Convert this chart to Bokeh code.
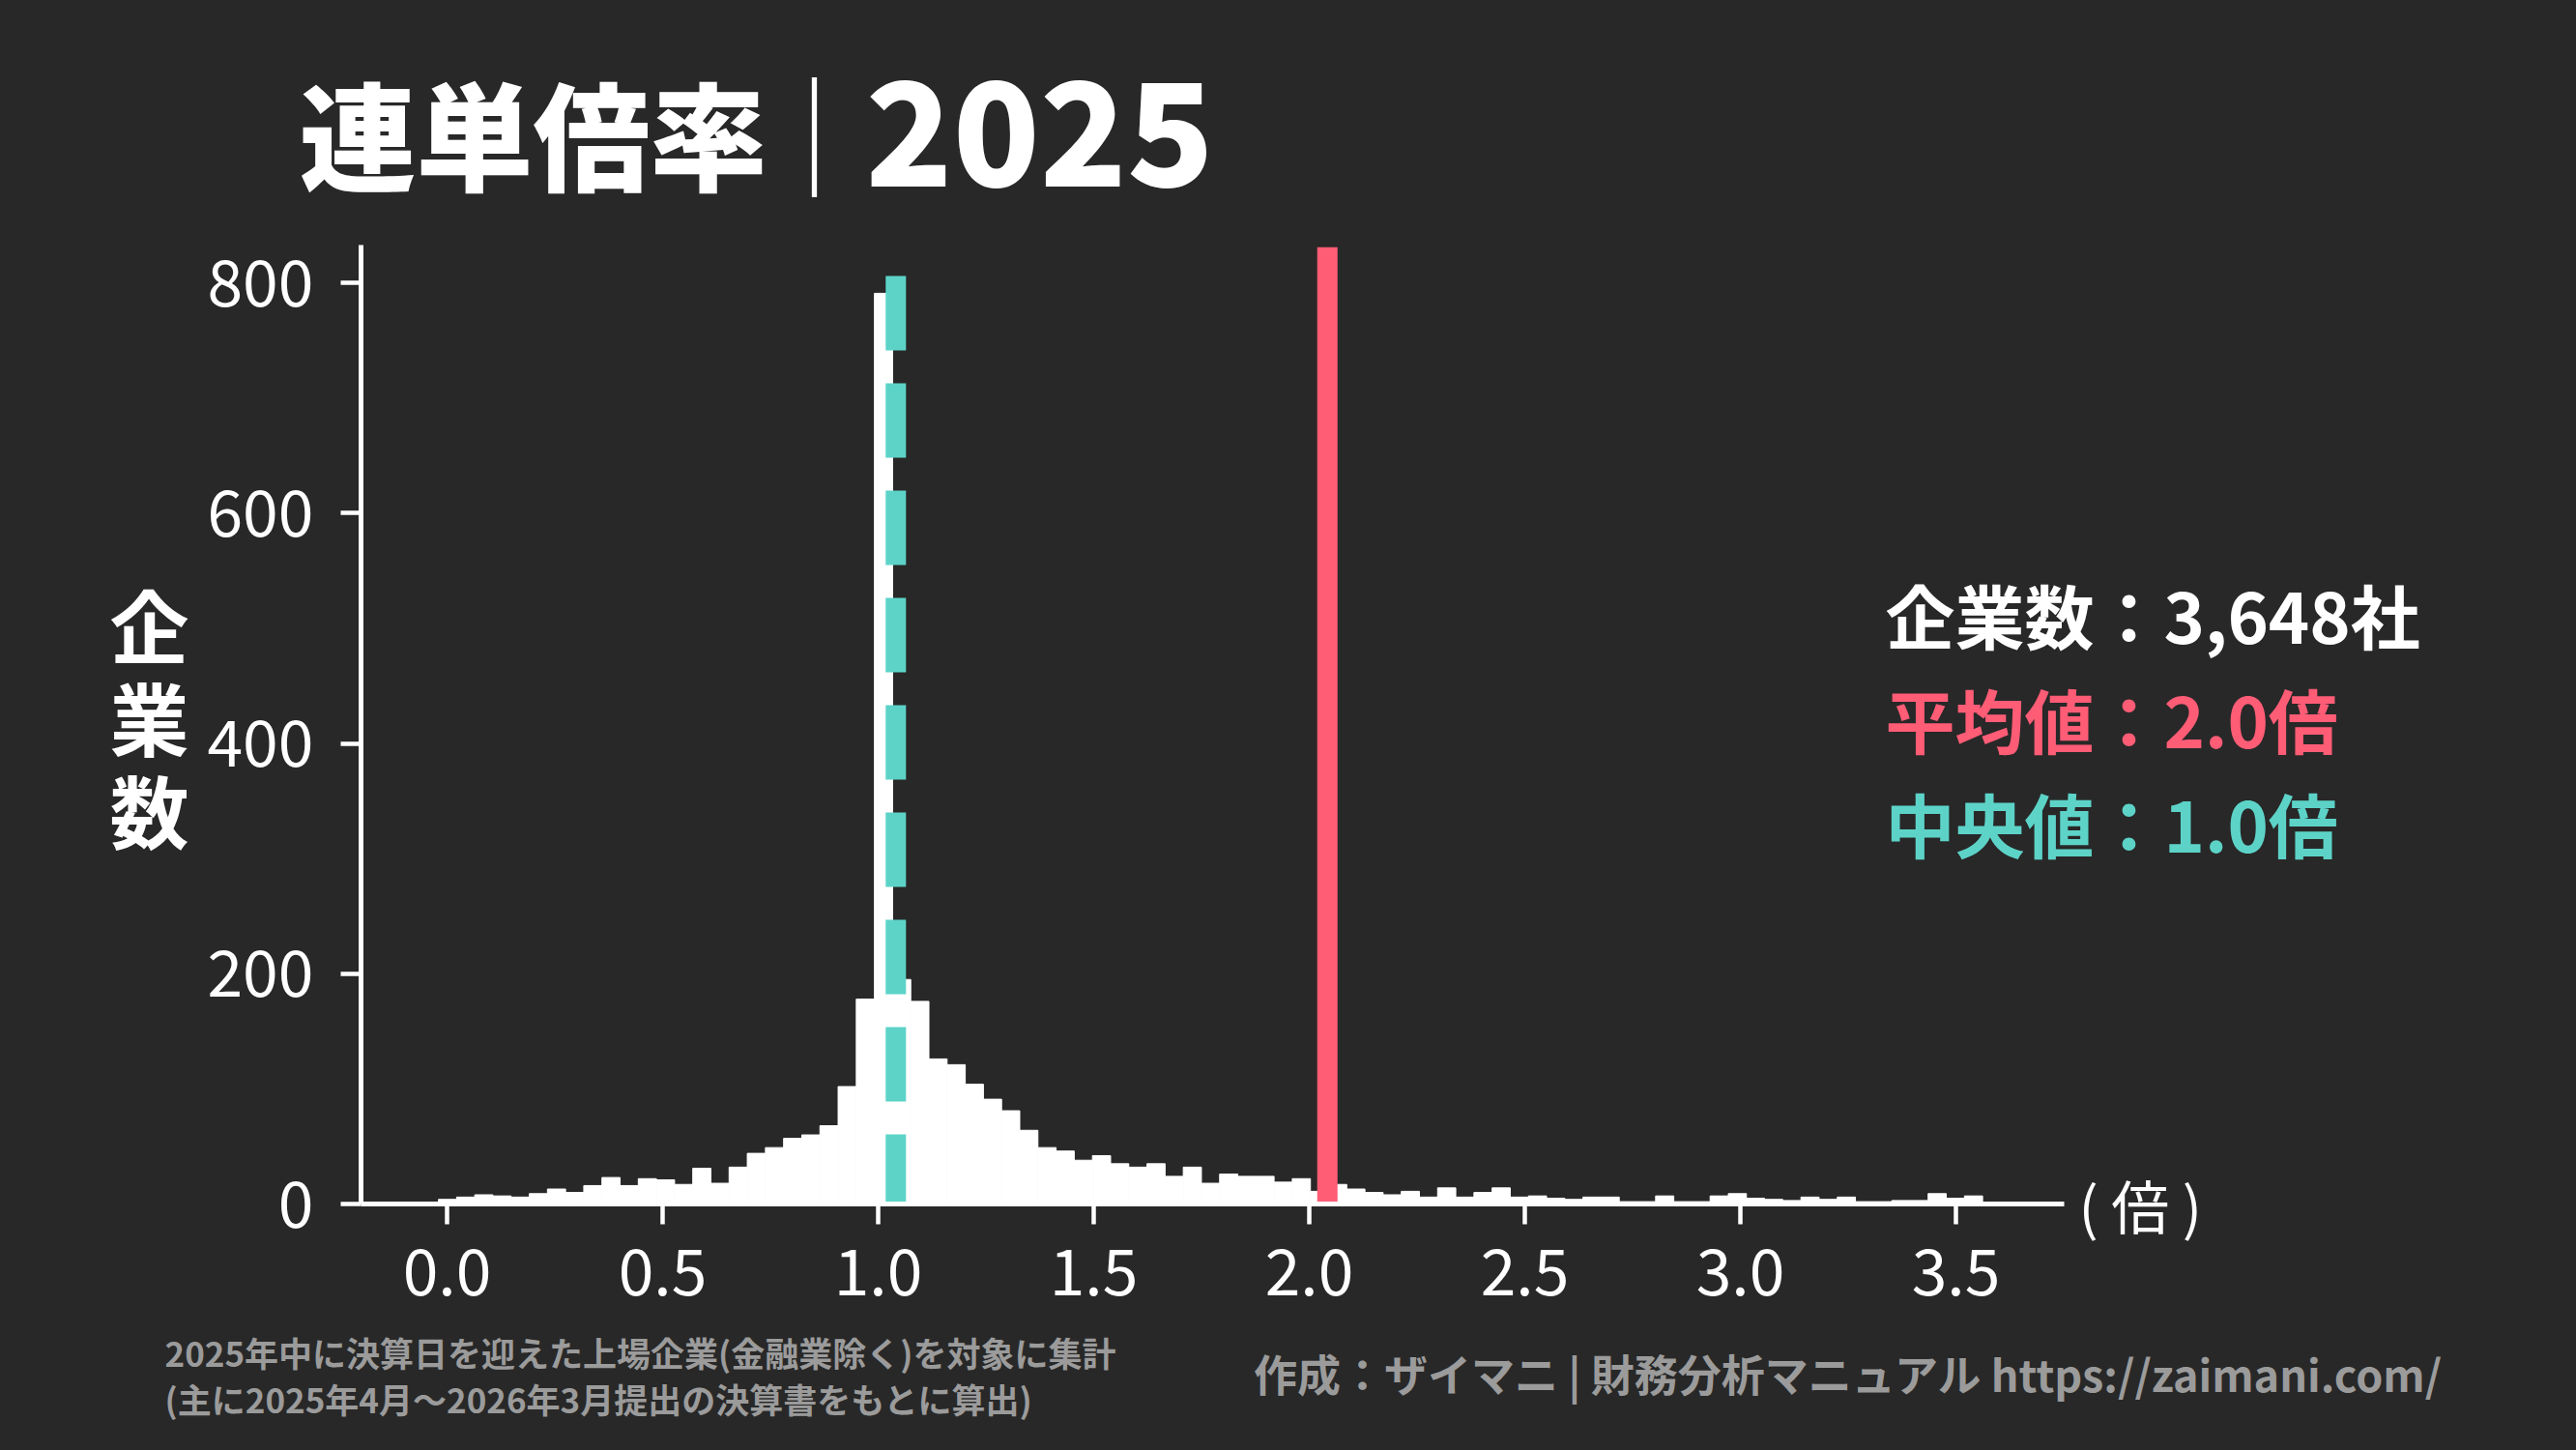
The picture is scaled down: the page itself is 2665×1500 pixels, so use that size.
import numpy as np
from bokeh.plotting import figure
from bokeh.models import Range1d, FixedTicker, Label, NumeralTickFormatter, ColumnDataSource
from bokeh.embed import file_html
from bokeh.resources import INLINE

# ---------------- data ----------------
bin_start = -0.02
bin_width = 0.04214
counts = [4, 6, 8, 7, 6, 9, 13, 10, 16, 23,
          16, 22, 21, 17, 31, 18, 32, 44, 49, 57,
          60, 68, 102, 178, 791, 195, 176, 126, 121, 104,
          91, 81, 64, 49, 46, 38, 42, 35, 32, 35,
          24, 32, 18, 26, 24, 24, 19, 22, 11, 17,
          13, 10, 8, 11, 6, 14, 6, 10, 14, 6,
          7, 5, 4, 6, 6, 2, 2, 7, 2, 2,
          7, 9, 5, 4, 3, 6, 4, 6, 2, 2,
          3, 3, 9, 5, 7]
mean_value = 2.042
median_value = 1.041
mean_line_top = 831
median_line_top = 806
x_ticks = [0.0, 0.5, 1.0, 1.5, 2.0, 2.5, 3.0, 3.5]
y_ticks = [0, 200, 400, 600, 800]
x_axis_bounds = (-0.2, 3.75)
y_axis_bounds = (0, 833)
title_main = "連単倍率"
title_sep = "｜"
title_year = "2025"
y_label_chars = ["企", "業", "数"]
x_unit_label = "( 倍 )"
stats_lines = ["企業数：3,648社", "平均値：2.0倍", "中央値：1.0倍"]
footnote_lines = ["2025年中に決算日を迎えた上場企業(金融業除く)を対象に集計",
                  "(主に2025年4月～2026年3月提出の決算書をもとに算出)"]
credit = "作成：ザイマニ | 財務分析マニュアル https://zaimani.com/"

# ---------------- style ----------------
BG = "#282828"
WHITE = "#ffffff"
RED = "#ff5c76"
TEAL = "#5dd3c8"
GRAY = "#9b9b9b"
JP = "'Noto Sans CJK JP'"
JP_BLACK = "'Noto Sans CJK JP Black', 'Noto Sans CJK JP'"

W, H = 2649, 1484
# pixel placement of the data origin and scale (frame = whole canvas)
PX_X0, PX_PER_X = 462.0, 446.0
PX_Y0, PX_PER_Y = 1245.0, 1.191

x_range = Range1d(-PX_X0 / PX_PER_X, (W - PX_X0) / PX_PER_X)
y_range = Range1d(-(H - PX_Y0) / PX_PER_Y, PX_Y0 / PX_PER_Y)

p = figure(width=W, height=H, output_backend="svg", toolbar_location=None,
           x_range=x_range, y_range=y_range,
           min_border_left=0, min_border_top=0,
           min_border_right=0, min_border_bottom=0)
p.background_fill_color = BG
p.border_fill_color = BG
p.outline_line_color = None
p.xgrid.visible = False
p.ygrid.visible = False

def dx(sx):
    return (sx - PX_X0) / PX_PER_X

def dy(sy):
    return (PX_Y0 - sy) / PX_PER_Y

left = bin_start + bin_width * np.arange(len(counts))
src = ColumnDataSource(dict(left=left, right=left + bin_width, top=counts))
p.quad(left="left", right="right", bottom=0, top="top", source=src,
       fill_color=WHITE, line_color=WHITE, line_width=1)

p.segment(x0=[mean_value], y0=[0], x1=[mean_value], y1=[mean_line_top],
          line_color=RED, line_width=21)
p.segment(x0=[median_value], y0=[median_line_top], x1=[median_value], y1=[0],
          line_color=TEAL, line_width=21, line_dash="77 34")

for ax in (p.xaxis[0], p.yaxis[0]):
    ax.axis_line_color = WHITE
    ax.axis_line_width = 5
    ax.major_tick_line_color = WHITE
    ax.major_tick_line_width = 4.5
    ax.major_tick_out = 21
    ax.major_tick_in = 0
    ax.minor_tick_line_color = None
    ax.major_label_text_color = WHITE
    ax.major_label_text_font = JP
    ax.major_label_text_font_size = "66px"

p.xaxis.fixed_location = y_axis_bounds[0]
p.yaxis.fixed_location = x_axis_bounds[0]
p.xaxis.bounds = x_axis_bounds
p.yaxis.bounds = y_axis_bounds
p.xaxis.ticker = FixedTicker(ticks=x_ticks)
p.xaxis.formatter = NumeralTickFormatter(format="0.0")
p.xaxis.major_label_standoff = 25
p.yaxis.ticker = FixedTicker(ticks=y_ticks)
p.yaxis.major_label_standoff = 28

def add_label(text, sx, sy, size, color=WHITE, font=JP, style="normal",
              align="left", baseline="middle"):
    p.add_layout(Label(x=dx(sx), y=dy(sy), text=text, text_color=color,
                       text_font=font, text_font_size=f"{size}px",
                       text_font_style=style, text_align=align,
                       text_baseline=baseline))

# title
add_label(title_main, 309, 135, 121, font=JP_BLACK, style="bold")
add_label(title_sep, 842, 134, 124, font=JP, align="center")
add_label(title_year, 895, 137, 148, font=JP_BLACK, style="bold")

# y label
for i, ch in enumerate(y_label_chars):
    add_label(ch, 154, 644 + i * 96, 82, align="center", style="bold")

# x unit
add_label(x_unit_label, 2150, 1245, 60)

# stats block
stat_colors = [WHITE, RED, TEAL]
for i, (t, c) in enumerate(zip(stats_lines, stat_colors)):
    add_label(t, 1950, 634 + i * 108, 72, color=c, style="bold")

# footnotes
for i, t in enumerate(footnote_lines):
    add_label(t, 170, 1398 + i * 48, 35, color=GRAY, style="bold")
add_label(credit, 2527, 1420, 45, color=GRAY, style="bold", align="right")

html = file_html(p, INLINE)
html = html.replace("<head>", "<head><style>html, body {background: #282828;}</style>", 1)
open("out.html", "w").write(html)
